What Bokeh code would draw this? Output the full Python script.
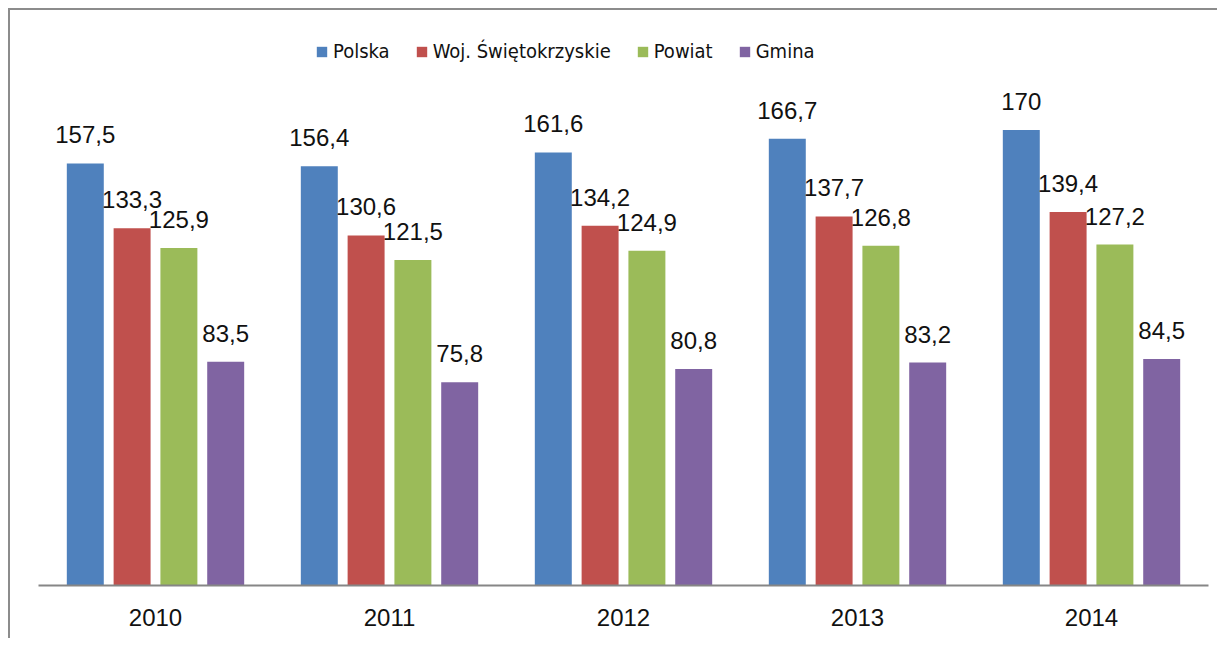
from bokeh.plotting import figure
from bokeh.models import FactorRange, Range1d, ColumnDataSource, LabelSet, Legend, LegendItem
from bokeh.transform import dodge
from bokeh.core.properties import value
from bokeh.embed import file_html
from bokeh.resources import INLINE

years = ["2010", "2011", "2012", "2013", "2014"]
series_names = ["Polska", "Woj. Świętokrzyskie", "Powiat", "Gmina"]
polska = [157.5, 156.4, 161.6, 166.7, 170]
woj = [133.3, 130.6, 134.2, 137.7, 139.4]
powiat = [125.9, 121.5, 124.9, 126.8, 127.2]
gmina = [83.5, 75.8, 80.8, 83.2, 84.5]
colors = ["#4F81BD", "#C0504D", "#9BBB59", "#8064A2"]
offsets = [-0.3, -0.1, 0.1, 0.3]

PX_PER_UNIT = 2.68
FRAME_H = 573

p = figure(width=1209, height=630,
           x_range=FactorRange(*years),
           y_range=Range1d(0, FRAME_H / PX_PER_UNIT),
           output_backend="svg", toolbar_location=None,
           y_axis_location=None,
           min_border_left=28, min_border_right=11,
           min_border_top=2, min_border_bottom=55)
p.styles = {"border-left": "2px solid #8c8c8c", "border-top": "2px solid #8c8c8c",
            "margin-left": "8px", "margin-top": "8px"}
p.outline_line_color = None
p.xgrid.grid_line_color = None
p.ygrid.grid_line_color = None
p.background_fill_color = "white"
p.border_fill_color = "white"

font = "Liberation Sans"
items = []
for name, vals, col, off in zip(series_names, [polska, woj, powiat, gmina], colors, offsets):
    src = ColumnDataSource(dict(years=years, vals=vals,
                                labels=[f"{v:g}".replace(".", ",") for v in vals]))
    r = p.vbar(x=dodge("years", off, range=p.x_range), top="vals", width=0.158,
               source=src, fill_color=col, line_color=None)
    items.append(LegendItem(label=name, renderers=[r]))
    lbl = LabelSet(x=dodge("years", off, range=p.x_range), y="vals", text="labels",
                   source=src, text_align="center", text_baseline="alphabetic",
                   y_offset=20, text_font=value(font), text_font_size=value("24px"),
                   text_color=value("#111111"))
    p.add_layout(lbl)

legend = Legend(items=items, orientation="horizontal", location=(277, 522),
                label_text_font="DejaVu Sans Condensed, Liberation Sans",
                label_text_font_size="20px",
                label_text_color="#111111",
                glyph_width=13, glyph_height=13, label_standoff=5, spacing=25,
                padding=0, margin=0, border_line_color=None,
                background_fill_alpha=0)
p.add_layout(legend)

ax = p.xaxis[0]
ax.axis_line_color = "#868686"
ax.axis_line_width = 2
ax.major_tick_line_color = None
ax.minor_tick_line_color = None
ax.major_label_text_font = font
ax.major_label_text_font_size = "24px"
ax.major_label_text_color = "#111111"
ax.major_label_standoff = 17

open("out.html", "w").write(file_html(p, INLINE))
